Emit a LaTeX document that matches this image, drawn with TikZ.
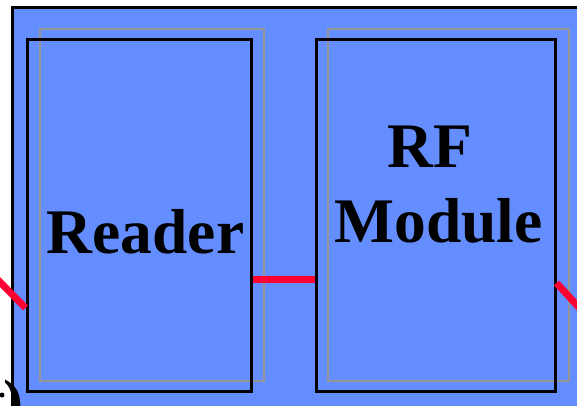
\documentclass[tikz,border=0pt]{standalone}
\usepackage{fontspec}
\setmainfont{Liberation Serif}
\usetikzlibrary{positioning}

\definecolor{panelblue}{RGB}{100,141,255}
\definecolor{wirered}{RGB}{255,0,51}
\definecolor{shadowgray}{RGB}{150,150,150}

\tikzset{
    unitbox/.style={draw=black, line width=3pt, minimum width=224pt, minimum height=351pt, inner sep=0pt},
    shadowbox/.style={draw=shadowgray, line width=2pt},
    wire/.style={draw=wirered, line width=7pt},
    bigtext/.style={font=\bfseries\fontsize{63.5}{75}\selectfont, inner sep=0pt, align=center}
}

\begin{document}
\begin{tikzpicture}[x=1pt, y=-1pt]
            \useasboundingbox (0, 0) rectangle (577, 406);

            % background panel
            \fill[white] (0, 0) rectangle (577, 406);
            \filldraw[fill=panelblue, draw=black, line width=3pt] (12, 8) rectangle (600, 430);

            % gray outlines behind the boxes
            \draw[shadowbox] (40, 29) rectangle (264, 381);
            \draw[shadowbox] (328, 29) rectangle (569, 381);

            % the two units
            \node[unitbox] (reader) at (139, 215.5) {};
            \node[unitbox, minimum width=239pt] (rfmod) at (435.5, 215.5) {};

            \node[bigtext, anchor=base] (readerlabel) at (145.5, 253) {Reader};
            \node[bigtext, anchor=base] (rflabel) at (430, 167) {RF};
            \node[bigtext, anchor=base] (modulelabel) at (438.5, 242) {Module};

            % wires
            \coordinate (leftend) at (-4, 278);
            \coordinate (rightend) at (585, 314);
            \draw[wire] (reader.east |- 0, 279.5) -- (rfmod.west |- 0, 279.5);
            \draw[wire] (leftend) -- (reader.west |- 0, 308);
            \draw[wire] (rfmod.east |- 0, 283) -- (rightend);

            % cut off text at the corner
            \fill (2, 395) circle (2.5pt);
            \node[font=\bfseries\fontsize{60}{60}\selectfont, anchor=base west, inner sep=0pt] (paren) at (3, 421) {)};
\end{tikzpicture}
\end{document}
